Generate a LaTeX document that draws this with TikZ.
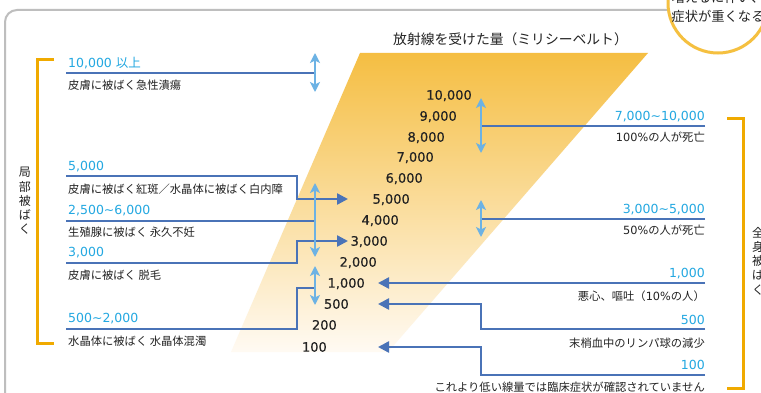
\documentclass[tikz,border=0pt]{standalone}
\usepackage{fontspec}
\setmainfont{Noto Sans CJK JP}
\newfontfamily\jp{Noto Sans CJK JP}
\newfontfamily\dv{DejaVu Sans}
\newfontfamily\dvb[FakeBold=0.5]{DejaVu Sans}
\usetikzlibrary{arrows.meta}
\definecolor{ink}{RGB}{35,35,35}
\definecolor{cyantext}{RGB}{35,168,225}
\definecolor{dline}{RGB}{74,115,183}
\definecolor{lblue}{RGB}{108,178,228}
\definecolor{brk}{RGB}{240,170,0}
\definecolor{circ}{RGB}{245,192,64}
\definecolor{frm}{RGB}{190,190,190}
\definecolor{trtop}{RGB}{245,190,66}
\definecolor{trmid}{RGB}{250,222,160}
\definecolor{trbot}{RGB}{255,250,243}
\begin{document}
\begin{tikzpicture}[x=1pt,y=-1pt,
  jtext/.style={font=\jp\fontsize{11.3}{13.5}\selectfont, text=ink, inner sep=0pt},
  btext/.style={font=\dv\fontsize{12.5}{14}\selectfont, text=cyantext, inner sep=0pt},
  ctr/.style={font=\dvb\fontsize{13}{15}\selectfont, text=ink, inner sep=0pt, anchor=base east},
  vtext/.style={font=\jp\fontsize{12}{14.2}\selectfont, text=ink, inner sep=0pt, align=center},
  dl/.style={draw=dline, line width=2.4pt},
  dla/.style={dl, -{Triangle[length=11pt,width=11pt]}},
  la/.style={draw=lblue, line width=2.4pt, {Stealth[length=10pt,width=10pt,inset=2.5pt]}-{Stealth[length=10pt,width=10pt,inset=2.5pt]}},
  brace/.style={draw=brk, line width=3pt}
]
\clip (0,0) rectangle (761,393);
\fill[white] (0,0) rectangle (761,393);
% frame
\draw[draw=frm, line width=2pt, rounded corners=12pt] (5,410) -- (5,10) -- (780,10);
% circle
\node[circle, draw=circ, line width=3pt, fill=white, minimum size=100pt, inner sep=0pt] (circ) at (718,3) {};
\node[font=\jp\fontsize{13.3}{15}\selectfont, text=ink, inner sep=0pt] (circt1) at (718,-3) {増えるに伴い、};
\node[font=\jp\fontsize{13.3}{15}\selectfont, text=ink, inner sep=0pt] (circt2) at (718,16) {症状が重くなる};
% title
\node[font=\jp\fontsize{13.8}{15}\selectfont, text=ink, inner sep=0pt, anchor=base west] (title) at (393,44.1) {放射線を受けた量（ミリシーベルト）};
% trapezoid
\shade[top color=trtop, middle color=trmid, bottom color=trbot] (360,53) -- (648,53) -- (388,352) -- (231,352) -- cycle;
% center numbers
\node[ctr] (n10000) at (472,99.7) {10,000};
\node[ctr] (n9000) at (457,120.7) {9,000};
\node[ctr] (n8000) at (445,141.7) {8,000};
\node[ctr] (n7000) at (434,161.7) {7,000};
\node[ctr] (n6000) at (423,182.7) {6,000};
\node[ctr] (n5000) at (410,203.7) {5,000};
\node[ctr] (n4000) at (399,224.7) {4,000};
\node[ctr] (n3000) at (388,245.7) {3,000};
\node[ctr] (n2000) at (377,266.7) {2,000};
\node[ctr] (n1000) at (365,287.7) {1,000};
\node[ctr] (n500) at (349,308.7) {500};
\node[ctr] (n200) at (337,329.7) {200};
\node[ctr] (n100) at (327,351.7) {100};
% brackets
\draw[brace] (54,60) -- (37,60) -- (37,343) -- (54,343);
\draw[brace] (727,119) -- (743,119) -- (743,388) -- (727,388);
\node[vtext] (lv) at (25,201) {局\\部\\被\\ば\\く};
\node[vtext] (rv) at (758,261) {全\\身\\被\\ば\\く};
% coordinates
\coordinate (la1) at (66,73);   \coordinate (la1e) at (315,73);
\coordinate (la2) at (66,176);  \coordinate (t5000) at (348,199);
\coordinate (la3) at (66,221);  \coordinate (la3e) at (315,221);
\coordinate (la4) at (66,263);  \coordinate (t3000) at (348,241);
\coordinate (la5) at (66,329);  \coordinate (la5e) at (315,288);
\coordinate (ra1) at (705,126); \coordinate (ra1e) at (481,126);
\coordinate (ra2) at (705,219); \coordinate (ra2e) at (481,219);
\coordinate (ra3) at (705,283); \coordinate (t1000) at (378,283);
\coordinate (ra4) at (705,329); \coordinate (t500) at (378,304);
\coordinate (ra5) at (705,375); \coordinate (t100) at (378,347);
% dark lines
\draw[dl] (la1) -- (la1e);
\draw[dla] (la2) -- (297,176) -- (297,199) -- (t5000);
\draw[dl] (la3) -- (la3e);
\draw[dla] (la4) -- (297,263) -- (297,241) -- (t3000);
\draw[dl] (la5) -- (297,329) -- (297,288) -- (la5e);
\draw[dl] (ra1) -- (ra1e);
\draw[dl] (ra2) -- (ra2e);
\draw[dla] (ra3) -- (t1000);
\draw[dla] (ra4) -- (481,329) -- (481,304) -- (t500);
\draw[dla] (ra5) -- (481,375) -- (481,347) -- (t100);
% light double arrows
\coordinate (a1s) at (315,53);  \coordinate (a1e) at (315,92);
\coordinate (a2s) at (315,183); \coordinate (a2e) at (315,257);
\coordinate (a3s) at (315,266); \coordinate (a3e) at (315,305);
\coordinate (b1s) at (481,98);  \coordinate (b1e) at (481,153);
\coordinate (b2s) at (481,200); \coordinate (b2e) at (481,237);
\draw[la] (a1s) -- (a1e);
\draw[la] (a2s) -- (a2e);
\draw[la] (a3s) -- (a3e);
\draw[la] (b1s) -- (b1e);
\draw[la] (b2s) -- (b2e);
% left labels
\node[btext, anchor=base west] (l1b) at (68,67.6) {10,000 {\jp 以上}};
\node[jtext, anchor=base west] (l1t) at (68,89.3) {皮膚に被ばく急性潰瘍};
\node[btext, anchor=base west] (l2b) at (68,170.6) {5,000};
\node[jtext, anchor=base west] (l2t) at (68,193.3) {皮膚に被ばく紅斑／水晶体に被ばく白内障};
\node[btext, anchor=base west] (l3b) at (68,214.6) {2,500\char"007E 6,000};
\node[jtext, anchor=base west] (l3t) at (68,236.3) {生殖腺に被ばく 永久不妊};
\node[btext, anchor=base west] (l4b) at (68,256.6) {3,000};
\node[jtext, anchor=base west] (l4t) at (68,279.3) {皮膚に被ばく 脱毛};
\node[btext, anchor=base west] (l5b) at (68,322.6) {500\char"007E 2,000};
\node[jtext, anchor=base west] (l5t) at (68,345.3) {水晶体に被ばく 水晶体混濁};
% right labels
\node[btext, anchor=base east] (r1b) at (705,120.6) {7,000\char"007E 10,000};
\node[jtext, anchor=base east] (r1t) at (705,141.3) {{\dv 100\%}の人が死亡};
\node[btext, anchor=base east] (r2b) at (705,213.6) {3,000\char"007E 5,000};
\node[jtext, anchor=base east] (r2t) at (705,234.3) {{\dv 50\%}の人が死亡};
\node[btext, anchor=base east] (r3b) at (705,277.6) {1,000};
\node[jtext, anchor=base east] (r3t) at (705,300.3) {悪心、嘔吐（{\dv 10\%}の人）};
\node[btext, anchor=base east] (r4b) at (705,324.6) {500};
\node[jtext, anchor=base east] (r4t) at (705,347.3) {末梢血中のリンパ球の減少};
\node[btext, anchor=base east] (r5b) at (705,369.6) {100};
\node[jtext, anchor=base east] (r5t) at (705,391.3) {これより低い線量では臨床症状が確認されていません};
\end{tikzpicture}
\end{document}
